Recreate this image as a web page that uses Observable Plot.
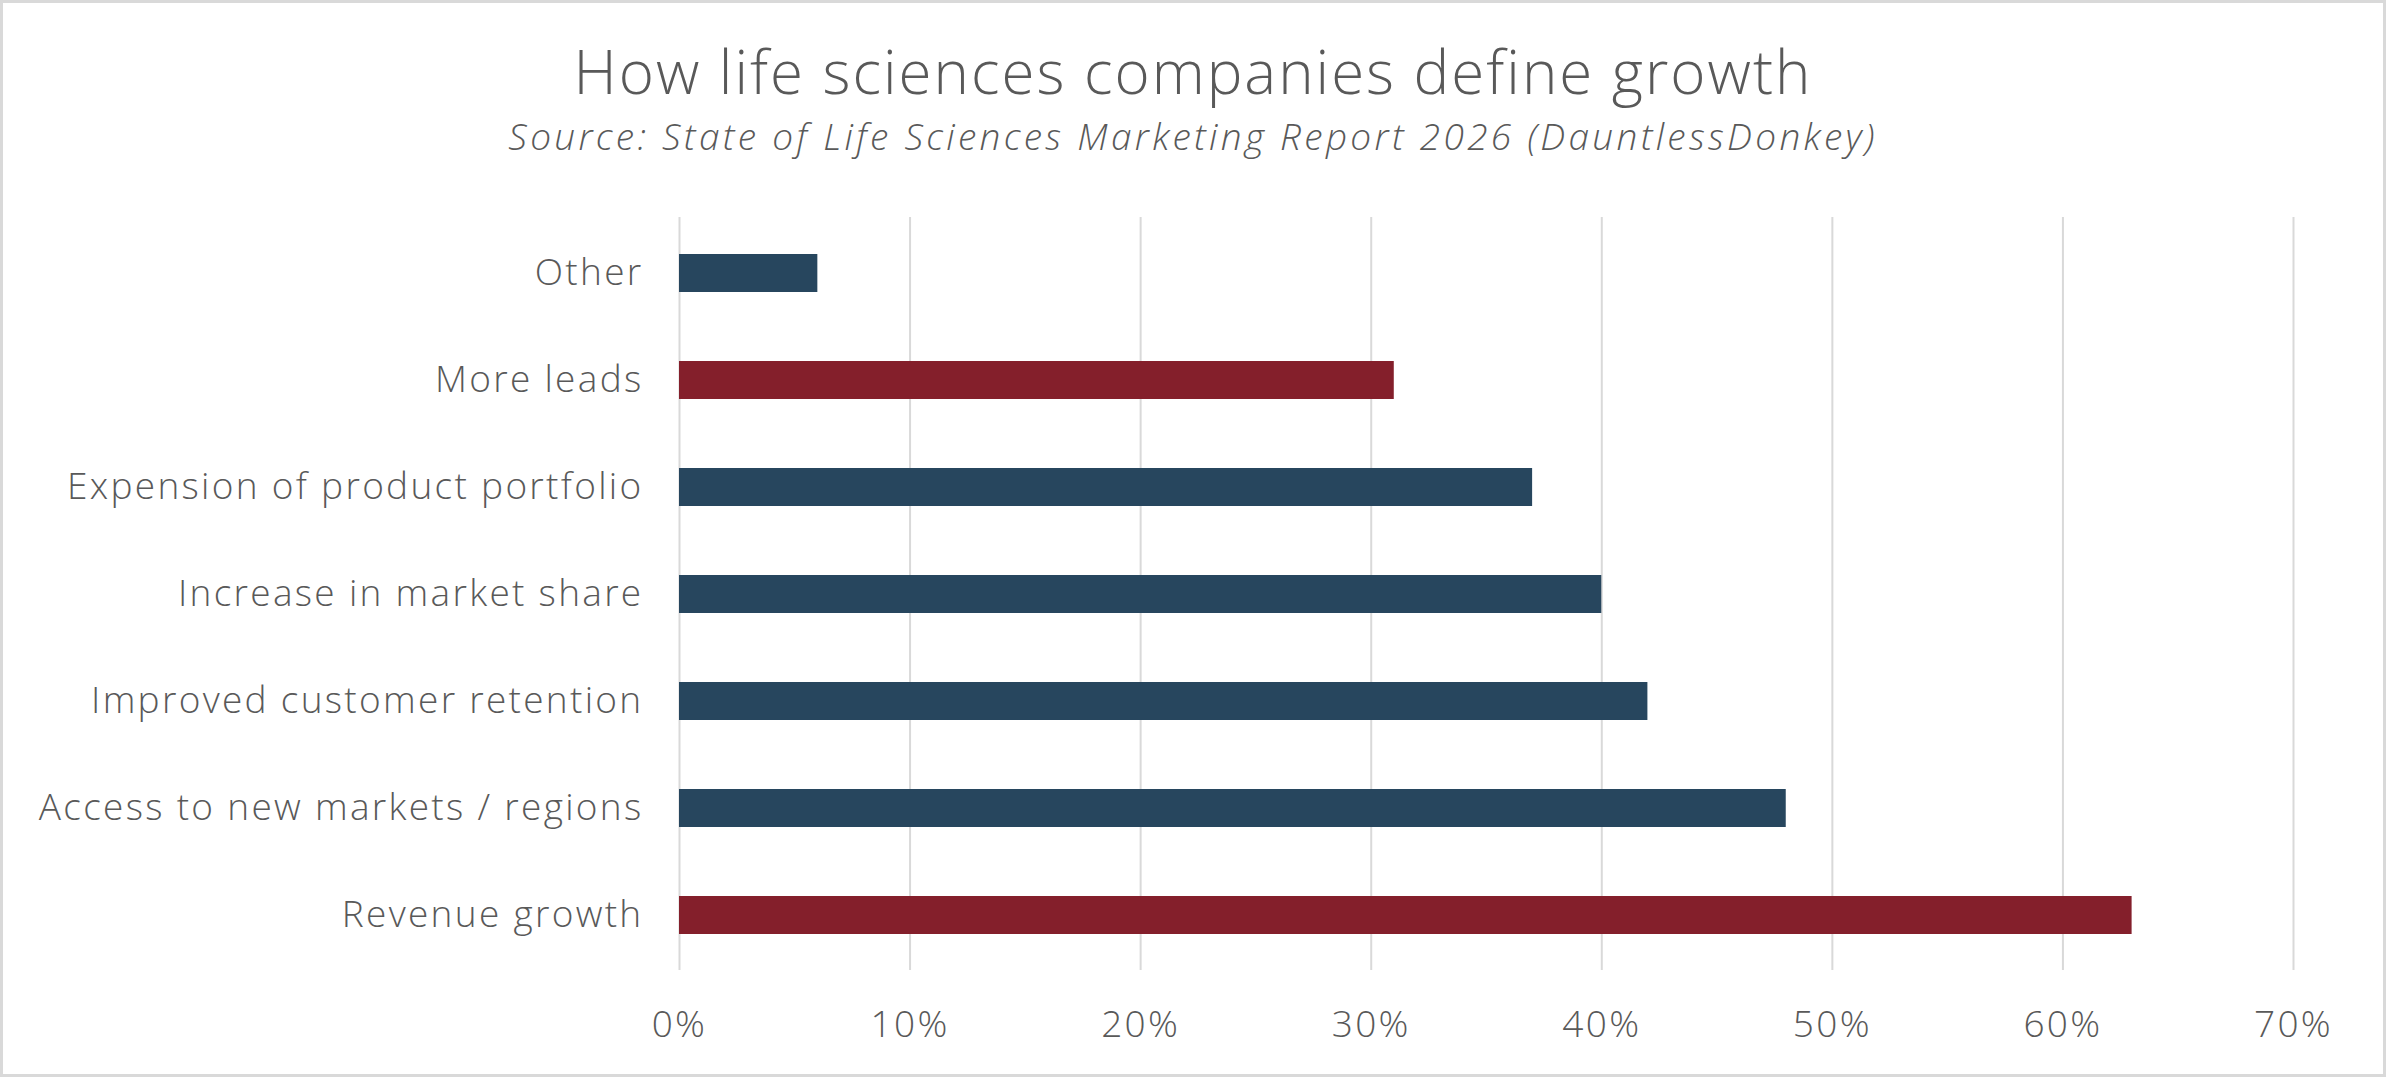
<!DOCTYPE html>
<html>
<head>
<meta charset="utf-8">
<script src="https://cdn.jsdelivr.net/npm/d3@7"></script>
<script src="https://cdn.jsdelivr.net/npm/@observablehq/plot@0.6"></script>
<style>
  html, body { margin: 0; padding: 0; background: #fff; }
  #chart { position: relative; width: 2386px; height: 1077px; overflow: hidden; font-family: "Open Sans", sans-serif; font-weight: 300; color: #595959; }
  #frame { position: absolute; left: 0; top: 0; right: 0; bottom: 0; border: 3px solid #d9d9d9; box-sizing: border-box; pointer-events: none; }
  #title { position: absolute; left: 0; width: 100%; top: 41px; text-align: center; font-size: 60px; letter-spacing: 2px; line-height: 1; }
  #subtitle { position: absolute; left: 0; width: 100%; top: 117px; text-align: center; font-size: 37px; font-style: italic; letter-spacing: 3.3px; line-height: 1; }
  #plot { position: absolute; left: 0; top: 170px; }
  #plot svg text { letter-spacing: 2.3px; font-weight: 300; }
</style>
</head>
<body>
<div id="chart">
  <div id="title">How life sciences companies define growth</div>
  <div id="subtitle">Source: State of Life Sciences Marketing Report 2026 (DauntlessDonkey)</div>
  <div id="plot"></div>
  <div id="frame"></div>
</div>
<script>
// Survey answers, listed top to bottom
const categories = [
  "Other",
  "More leads",
  "Expension of product portfolio",
  "Increase in market share",
  "Improved customer retention",
  "Access to new markets / regions",
  "Revenue growth"
];
// Share of respondents (%)
const values = [6, 31, 37, 40, 42, 48, 63];
// Answers drawn in the accent colour
const highlighted = ["More leads", "Revenue growth"];
// Axis ticks (%)
const xTicks = [0, 10, 20, 30, 40, 50, 60, 70];

const rows = categories.map((c, i) => ({category: c, value: values[i], accent: highlighted.includes(c)}));

const chart = Plot.plot({
  width: 2386,
  height: 907,
  marginTop: 47,
  marginBottom: 107,
  marginLeft: 679,
  marginRight: 93,
  style: {fontFamily: "'Open Sans', sans-serif", fontSize: "37px", color: "#595959", background: "transparent"},
  x: {domain: [0, 70], ticks: xTicks, tickFormat: d => d + "%", tickSize: 0, tickPadding: 40, label: null},
  y: {domain: categories, paddingInner: 0.647, paddingOuter: 0.325, tickSize: 0, tickPadding: 36, label: null},
  color: {domain: [false, true], range: ["#27465e", "#841f2b"]},
  marks: [
    Plot.ruleX(xTicks, {stroke: "#d9d9d9", strokeWidth: 2}),
    Plot.barX(rows, {x1: 0, x2: "value", y: "category", fill: "accent"}),
    Plot.axisX({ticks: xTicks, tickFormat: d => d + "%", tickSize: 0, tickPadding: 40, label: null, fill: "#595959"}),
    Plot.axisY({tickSize: 0, tickPadding: 36, label: null, fill: "#595959"})
  ]
});
document.getElementById("plot").appendChild(chart);
</script>
</body>
</html>
